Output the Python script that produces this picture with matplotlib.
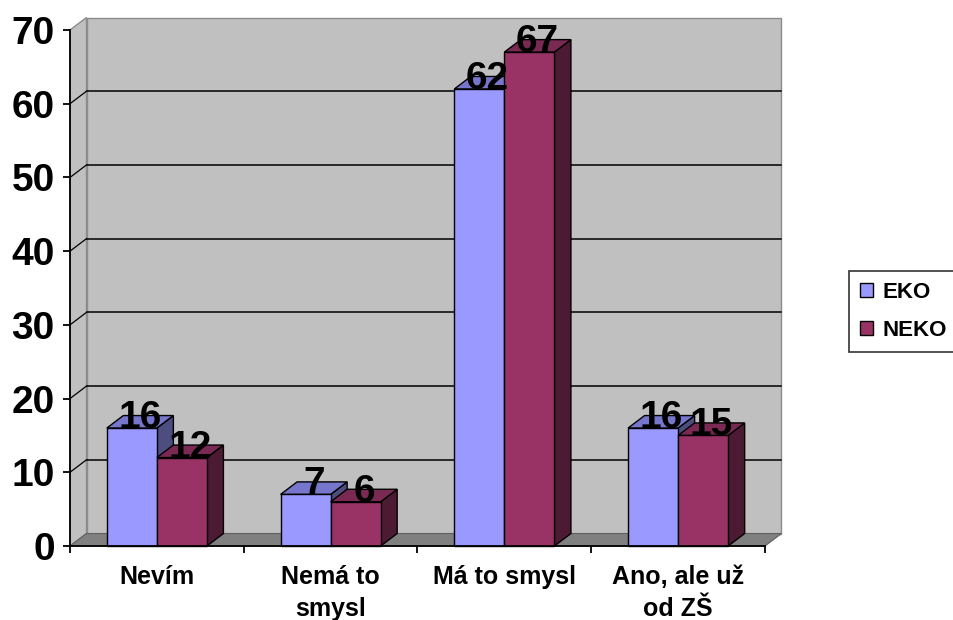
import matplotlib
matplotlib.use("Agg")
import matplotlib.pyplot as plt
from matplotlib.patches import Polygon, Rectangle, Patch

categories = ["Nevím", "Nemá to\nsmysl", "Má to smysl", "Ano, ale už\nod ZŠ"]
eko = [16, 7, 62, 16]
neko = [12, 6, 67, 15]
series = ["EKO", "NEKO"]
yticks = [0, 10, 20, 30, 40, 50, 60, 70]

# front / top / side shades for each series
shades = {
    "EKO": ("#9999FF", "#7676CC", "#4D4D80"),
    "NEKO": ("#993366", "#7A2952", "#4D1A33"),
}
wall_color = "#C0C0C0"
floor_color = "#808080"

font = ["Liberation Sans", "DejaVu Sans"]

fig = plt.figure(figsize=(9.54, 6.2), dpi=100)
fig.patch.set_facecolor("white")
ax = fig.add_axes([70 / 954, 74 / 620, 695 / 954, 516 / 620])
ax.set_xlim(0, len(categories))
ax.set_ylim(0, 70)
ax.set_facecolor("none")

# depth of the pseudo-3d box, in pixels, converted to data units
dx_px, dy_px = 16.5, 12.5
p0 = ax.transData.transform((0, 0))
p1 = ax.transData.transform((1, 1))
ddx = dx_px / (p1[0] - p0[0])
ddy = dy_px / (p1[1] - p0[1])

n = len(categories)
ytop = yticks[-1]

# back wall, side wall and floor
ax.add_patch(Rectangle((ddx, ddy), n, ytop, facecolor=wall_color,
                       edgecolor="#8C8C8C", lw=1, zorder=0, clip_on=False))
ax.add_patch(Polygon([(0, 0), (0, ytop), (ddx, ytop + ddy), (ddx, ddy)],
                     closed=True, facecolor=wall_color, edgecolor="#8C8C8C",
                     lw=1, zorder=0, clip_on=False))
ax.add_patch(Polygon([(0, 0), (n, 0), (n + ddx, ddy), (ddx, ddy)],
                     closed=True, facecolor=floor_color, edgecolor="#606060",
                     lw=0.8, zorder=0.5, clip_on=False))

# gridlines on the walls
for v in yticks[1:-1]:
    ax.plot([ddx, n + ddx], [v + ddy, v + ddy], color="black", lw=1.1,
            zorder=1, clip_on=False)
    ax.plot([0, ddx], [v, v + ddy], color="black", lw=0.9, zorder=1,
            clip_on=False)

bar_w = 0.288


def draw_bar(x0, v, name):
    front, top, side = shades[name]
    x1 = x0 + bar_w
    ax.add_patch(Polygon([(x1, 0), (x1 + ddx, ddy), (x1 + ddx, v + ddy), (x1, v)],
                         closed=True, facecolor=side, edgecolor="black",
                         lw=1, zorder=3, clip_on=False))
    ax.add_patch(Polygon([(x0, v), (x1, v), (x1 + ddx, v + ddy), (x0 + ddx, v + ddy)],
                         closed=True, facecolor=top, edgecolor="black",
                         lw=1, zorder=3, clip_on=False))
    ax.add_patch(Rectangle((x0, 0), bar_w, v, facecolor=front,
                           edgecolor="black", lw=1, zorder=3, clip_on=False))


for i in range(n):
    c = i + 0.5
    draw_bar(c - bar_w, eko[i], "EKO")
    draw_bar(c, neko[i], "NEKO")

for i in range(n):
    c = i + 0.5
    for x0, v in ((c - bar_w, eko[i]), (c, neko[i])):
        ax.text(x0 + bar_w / 2 + ddx / 2, v, str(v), ha="center",
                va="baseline", fontsize=28, fontweight="bold",
                family=font, zorder=5, clip_on=False)

# axes
for s in ("top", "right"):
    ax.spines[s].set_visible(False)
ax.spines["left"].set_linewidth(1.3)
ax.spines["bottom"].set_linewidth(1.3)
ax.spines["left"].set_zorder(4)
ax.spines["bottom"].set_zorder(4)

ax.set_yticks(yticks)
ax.set_yticklabels([str(t) for t in yticks], fontsize=28, fontweight="bold",
                   family=font)
ax.tick_params(axis="y", length=5, width=1.3, pad=6)

ax.set_xticks([i + 0.5 for i in range(n)])
ax.set_xticklabels(categories, fontsize=18, fontweight="bold", family=font,
                   linespacing=1.4)
ax.set_xticks(range(n + 1), minor=True)
ax.tick_params(axis="x", which="major", length=0, pad=14)
ax.tick_params(axis="x", which="minor", length=5, width=1.3)

handles = [Patch(facecolor=shades[s][0], edgecolor="black", lw=1) for s in series]
leg = fig.legend(handles, series, loc="upper left",
                 bbox_to_anchor=(849 / 954, 1 - 271 / 620),
                 prop={"family": font, "weight": "bold", "size": 16},
                 frameon=True, fancybox=False, edgecolor="black",
                 handlelength=0.6, handleheight=0.6, handletextpad=0.4,
                 labelspacing=0.75, borderpad=0.5, borderaxespad=0)
leg.get_frame().set_linewidth(1.2)

fig.savefig("out.png", dpi=100)
